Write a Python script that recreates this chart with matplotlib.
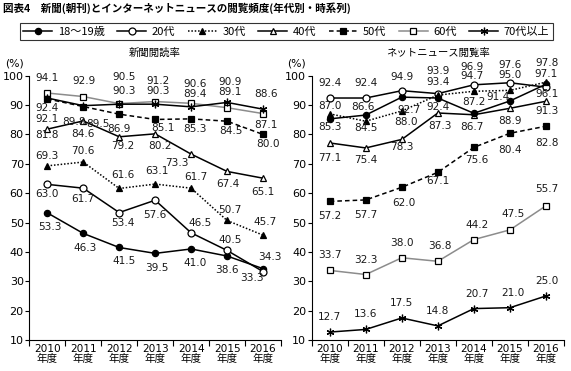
import matplotlib
matplotlib.use('Agg')
import matplotlib.pyplot as plt
from matplotlib.lines import Line2D

# ---------------- data ----------------
years = ['2010', '2011', '2012', '2013', '2014', '2015', '2016']
year_suffix = '年度'
groups = ['18～19歳', '20代', '30代', '40代', '50代', '60代', '70代以上']

paper_1819 = [53.3, 46.3, 41.5, 39.5, 41.0, 38.6, 34.3]
paper_20s = [63.0, 61.7, 53.4, 57.6, 46.5, 40.5, 33.3]
paper_30s = [69.3, 70.6, 61.6, 63.1, 61.7, 50.7, 45.7]
paper_40s = [81.8, 84.6, 79.2, 80.2, 73.3, 67.4, 65.1]
paper_50s = [92.1, 89.5, 86.9, 85.1, 85.3, 84.5, 80.0]
paper_60s = [94.1, 92.9, 90.5, 91.2, 90.6, 89.1, 87.1]
paper_70s = [92.4, 89.8, 90.3, 90.3, 89.4, 90.9, 88.6]

net_1819 = [85.3, 86.6, 92.7, 92.4, 87.2, 91.4, 97.1]
net_20s = [92.4, 92.4, 94.9, 93.9, 96.9, 97.6, 96.1]
net_30s = [87.0, 84.5, 88.0, 93.4, 94.7, 95.0, 97.8]
net_40s = [77.1, 75.4, 78.3, 87.3, 86.7, 88.9, 91.3]
net_50s = [57.2, 57.7, 62.0, 67.1, 75.6, 80.4, 82.8]
net_60s = [33.7, 32.3, 38.0, 36.8, 44.2, 47.5, 55.7]
net_70s = [12.7, 13.6, 17.5, 14.8, 20.7, 21.0, 25.0]

title = '図表4　新聞(朝刊)とインターネットニュースの閲覧頻度(年代別・時系列)'
paper_title = '新聞閲読率'
net_title = 'ネットニュース閲覧率'

# ---------------- styles / layout ----------------
FONT = ['DejaVu Sans', 'Noto Sans CJK JP']
JFONT = ['Noto Sans CJK JP', 'DejaVu Sans']
plt.rcParams['font.family'] = FONT

styles = [
    dict(color='black', ls='-', marker='o', mfc='black', mec='black', ms=4.5, zorder=5),
    dict(color='black', ls='-', marker='o', mfc='white', mec='black', ms=5, zorder=5),
    dict(color='black', ls=(0, (1, 1.2)), marker='^', mfc='black', mec='black', ms=5, zorder=5),
    dict(color='black', ls='-', marker='^', mfc='white', mec='black', ms=5, zorder=4),
    dict(color='black', ls=(0, (3, 2)), marker='s', mfc='black', mec='black', ms=4.5, zorder=4),
    dict(color='#8c8c8c', ls='-', marker='s', mfc='white', mec='black', ms=5, zorder=3),
    dict(color='black', ls='-', marker=(6, 2, 0), mfc='black', mec='black', ms=5.5, zorder=6),
]

# label offsets in pixels (dx, dy up)
paper_off = [
    [(3, -14), (2, -15), (5, -14), (2, -15), (4, -14), (0, -14), (7, 12)],
    [(0, -10), (0, -11), (4, -10), (0, -15), (9, 10), (3, 10), (-11, -6)],
    [(0, 10), (0, 11), (4, 13), (2, 13), (5, 11), (3, 10), (2, 13)],
    [(0, -6), (0, -13), (4, -9), (5, -12), (-14, -9), (1, -13), (0, -14)],
    [(0, -20), (15, -17), (0, -15), (8, -9), (4, -10), (4, -10), (5, -10)],
    [(0, 15), (1, 16), (5, 27), (3, 21), (4, 19), (3, 16), (3, -11)],
    [(0, -10), (-9, -16), (5, 13), (3, 13), (4, 13), (3, 20), (3, 15)],
]
net_off = [
    [(0, -8), (-3, 8), (7, -13), (0, -9), (0, 11), (-12, 4), (0, 10)],
    [(0, 15), (0, 15), (0, 14), (0, 23), (-2, 18), (0, 18), (1, -7)],
    [(0, 8), (0, -7), (4, -11), (0, 13), (-2, 15), (0, 15), (1, 19)],
    [(0, -15), (0, -12), (0, -8), (2, -13), (-2, -12), (0, -13), (1, -10)],
    [(0, -15), (0, -15), (2, -16), (0, -9), (3, -13), (0, -17), (1, -17)],
    [(0, 15), (0, 15), (0, 15), (2, 15), (3, 15), (3, 16), (1, 17)],
    [(0, 15), (0, 15), (0, 15), (0, 15), (3, 15), (3, 15), (1, 15)],
]

W, H = 571, 371
fig = plt.figure(figsize=(W / 100, H / 100), dpi=100)


def fx(px):
    return px / W


def fy(py):
    return 1 - py / H


ax_bottom = fy(340)
ax_h = (340 - 75.7) / H
axL = fig.add_axes([fx(29.3), ax_bottom, (281 - 29.3) / W, ax_h])
axR = fig.add_axes([fx(311.7), ax_bottom, (564 - 311.7) / W, ax_h])

x = list(range(len(years)))


def draw(ax, series, offsets, ttl):
    for vals, st, offs in zip(series, styles, offsets):
        ax.plot(x, vals, color=st['color'], ls=st['ls'], lw=1.1,
                marker=st['marker'], mfc=st['mfc'], mec=st['mec'],
                ms=st['ms'], mew=0.9, zorder=st['zorder'], clip_on=False)
        for xi, v, (dx, dy) in zip(x, vals, offs):
            ax.annotate(f'{v:.1f}', (xi, v), xytext=(dx, dy),
                        textcoords='offset pixels', ha='center', va='center',
                        fontsize=7.6, color='#1a1a1a', zorder=10)
    ax.set_xlim(-0.5, len(years) - 0.5)
    ax.set_ylim(10, 100)
    ax.set_yticks(range(10, 101, 10))
    ax.set_xticks(x)
    ax.set_xticklabels([f'{y}\n{year_suffix}' for y in years],
                       fontsize=7.6, linespacing=0.95)
    for lab in ax.get_xticklabels():
        lab.set_family(FONT)
    ax.set_xticks([i - 0.5 for i in range(len(years) + 1)], minor=True)
    ax.tick_params(axis='x', which='major', length=0, pad=3)
    ax.tick_params(axis='x', which='minor', length=4, width=0.8, direction='out')
    ax.tick_params(axis='y', length=3, width=0.8, direction='out', labelsize=8, pad=1)
    for s in ['top', 'right']:
        ax.spines[s].set_visible(False)
    for s in ['left', 'bottom']:
        ax.spines[s].set_linewidth(0.8)


draw(axL, [paper_1819, paper_20s, paper_30s, paper_40s, paper_50s, paper_60s, paper_70s],
     paper_off, paper_title)
draw(axR, [net_1819, net_20s, net_30s, net_40s, net_50s, net_60s, net_70s],
     net_off, net_title)

fig.text(fx(155), fy(53), paper_title, ha='center', va='center', fontsize=7.5, family=JFONT)
fig.text(fx(438), fy(53), net_title, ha='center', va='center', fontsize=7.5, family=JFONT)
fig.text(fx(15), fy(63), '(%)', ha='center', va='center', fontsize=7.8)
fig.text(fx(297), fy(63), '(%)', ha='center', va='center', fontsize=7.8)
fig.text(fx(3), fy(8), title, ha='left', va='center', fontsize=7.6,
         fontweight='bold', family=JFONT)

handles = [Line2D([], [], color=st['color'], ls=st['ls'], lw=1.1, marker=st['marker'],
                  mfc=st['mfc'], mec=st['mec'], ms=st['ms'], mew=0.9) for st in styles]
leg = fig.legend(handles, groups, loc='center', ncol=7, mode='expand',
                 bbox_to_anchor=(fx(14), fy(42), (559 - 14) / W, 21 / H),
                 frameon=True, fancybox=False, edgecolor='black', fontsize=8,
                 handlelength=2.6, handletextpad=0.5, columnspacing=0.6,
                 borderpad=0.35, prop={'family': JFONT, 'size': 8})
leg.get_frame().set_linewidth(0.8)

fig.savefig('out.png', dpi=100)
